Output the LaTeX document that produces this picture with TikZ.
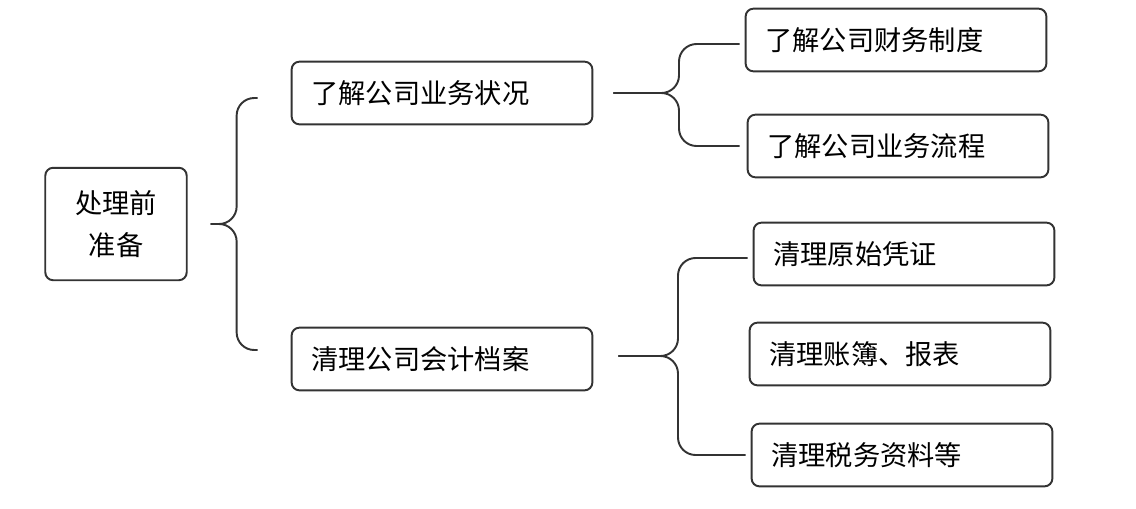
\documentclass[tikz,border=0pt]{standalone}
\usepackage{fontspec}
\setmainfont{Noto Sans CJK SC}
\usetikzlibrary{calc}
\tikzset{
	box/.style   = {draw=black!80, line width=1.1pt, rounded corners=4.5pt,
		minimum height=35.7pt, text width=148.6pt, align=left, inner xsep=11.3pt},
	root/.style  = {draw=black!80, line width=1.1pt, rounded corners=4.5pt,
		minimum width=80.5pt, minimum height=64pt, align=center},
	brace/.style = {draw=black!80, line width=1.1pt, rounded corners=10pt}
}
\begin{document}
\begin{tikzpicture}[x=0.02cm, y=-0.02cm, font=\fontsize{15.5}{24}\selectfont]
	\useasboundingbox (0,0) rectangle (1136,508);
	% nodes
	\node[root] (prep) at (116,224) {处理前\\准备};
	\node[box] (biz) at (442,93) {了解公司业务状况};
	\node[box] (arch) at (442,359) {清理公司会计档案};
	\node[box] (fin) at (896,40) {了解公司财务制度};
	\node[box] (flow) at (898,146) {了解公司业务流程};
	\node[box] (orig) at (904,254) {清理原始凭证};
	\node[box] (book) at (900,354) {清理账簿、报表};
	\node[box] (tax) at (902,455) {清理税务资料等};
	
	% brace tips
	\coordinate (t1) at ($(prep.east)+(23,0)$);
	\coordinate (t2) at ($(biz.east)+(20,0)$);
	\coordinate (t3) at ($(arch.east)+(25,-3)$);
	
	% braces
	\draw[brace] ($(biz.west)+(-33,5)$) -- ++(-21,0) |- (t1);
	\draw[brace] ($(arch.west)+(-33,-9)$) -- ++(-21,0) |- (t1);
	\draw[brace] ($(fin.west)+(-5,4)$) -- (679,44) |- (t2);
	\draw[brace] ($(flow.west)+(-7,0)$) -- (679,146) |- (t2);
	\draw[brace] ($(orig.west)+(-5,4)$) -- (678,258) |- (t3);
	\draw[brace] ($(tax.west)+(-5,0)$) -- (678,455) |- (t3);
\end{tikzpicture}
\end{document}
